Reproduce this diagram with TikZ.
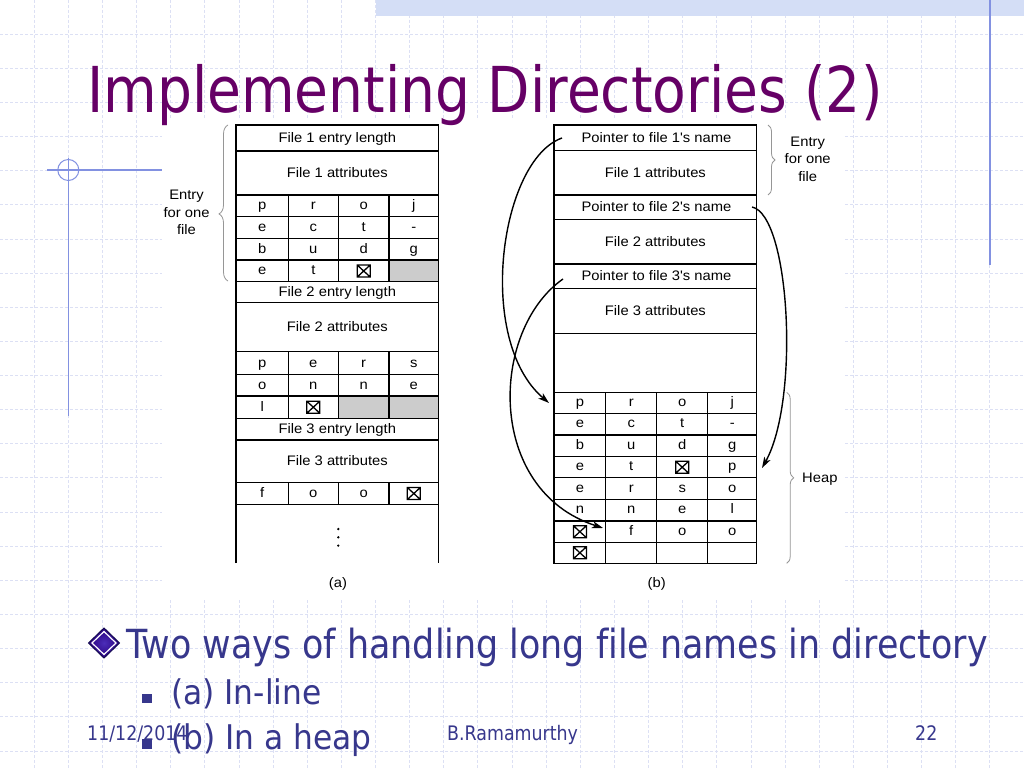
\documentclass[tikz,border=0pt]{standalone}
\usepackage{fontspec}
\setmainfont{Liberation Sans}
\newfontfamily\slidefont[FakeStretch=0.87,Ligatures=NoCommon]{DejaVu Sans}
\newfontfamily\subfont[FakeStretch=0.92,Ligatures=NoCommon]{DejaVu Sans}
\newfontfamily\figfont[FakeStretch=1.07,Ligatures=NoCommon]{Liberation Sans}
\usetikzlibrary{arrows.meta,decorations.pathreplacing}
\definecolor{titlepurple}{RGB}{102,0,102}
\definecolor{bodyblue}{RGB}{55,55,140}
\definecolor{gridc}{RGB}{220,224,244}
\definecolor{decoblue}{RGB}{130,145,225}
\definecolor{bannerc}{RGB}{212,222,246}
\definecolor{cellgray}{RGB}{204,204,204}
\definecolor{bracec}{RGB}{150,150,150}
\definecolor{diain}{RGB}{75,45,185}
\definecolor{diaout}{RGB}{40,0,125}
\definecolor{diaedge}{RGB}{20,10,80}
\begin{document}
\begin{tikzpicture}[x=1pt,y=-1pt,
  gridline/.style={gridc, line width=0.8pt, dash pattern=on 3pt off 2pt},
  deco/.style={decoblue, line width=1.3pt},
  tbl/.style={line width=1.4pt, black},
  lbl/.style={font={\figfont\fontsize{13.8pt}{16pt}\selectfont}, inner sep=0pt, anchor=base},
  ptr/.style={line width=1.4pt, -{Stealth[length=11pt,width=7pt,inset=3pt]}},
  gbrace/.style={decorate, draw=bracec, line width=0.8pt},
  titletext/.style={font={\slidefont\fontsize{63.3pt}{70pt}\selectfont}, text=titlepurple, inner sep=0pt, anchor=base west},
  bodytext/.style={font={\slidefont\fontsize{40.1pt}{46pt}\selectfont}, text=bodyblue, inner sep=0pt, anchor=base west},
  subtext/.style={font={\subfont\fontsize{34pt}{40pt}\selectfont}, text=bodyblue, inner sep=0pt, anchor=base west},
  foottext/.style={font={\slidefont\fontsize{20pt}{24pt}\selectfont}, text=bodyblue, inner sep=0pt, anchor=base west},
  sqbullet/.style={fill=bodyblue},
  xbox/.pic={\draw[line width=1.3pt] (-6.5,-6) rectangle (6.5,6) (-6.5,-6) -- (6.5,6) (-6.5,6) -- (6.5,-6);}
]
\useasboundingbox (0,0) rectangle (1024,768);
\fill[white] (0,0) rectangle (1024,768);
% background grid
\foreach \i in {1,...,29} \draw[gridline] (\i*34.1333,0) -- (\i*34.1333,768);
\foreach \j in {1,...,22} \draw[gridline] (0,\j*34.1333) -- (1024,\j*34.1333);
% banner and decorations
\fill[bannerc] (375.5,0) rectangle (1024,16.5);
\draw[deco] (989.9,0) -- (989.9,265);
\draw[deco] (47,170) -- (162,170);
\draw[deco] (68.3,158) -- (68.3,416);
\draw[decoblue, line width=1pt] (68.3,170) circle (10.5);
% white figure area
\fill[white] (162,120) rectangle (843,598);

% ---------------- (a) in-line ----------------
\fill[cellgray] (389,260) rectangle (438.5,281.7);
\fill[cellgray] (338.3,396) rectangle (438.5,418.3);
\draw[tbl] (236,563) -- (236,125) -- (438.5,125) -- (438.5,563);
\foreach \yy in {151,195,216.7,238.3,260,281.7,302.7,351.7,374.3,396,418.3,440,482.7,504.3}
  \draw[tbl] (236,\yy) -- (438.5,\yy);
\foreach \xx in {288.3,338.3,389} {
  \draw[tbl] (\xx,195) -- (\xx,281.7);
  \draw[tbl] (\xx,351.7) -- (\xx,418.3);
  \draw[tbl] (\xx,482.7) -- (\xx,504.3);
}
\node[lbl] (a-len1) at (337.3,142.7) {File 1 entry length};
\node[lbl] (a-att1) at (337.3,177.5) {File 1 attributes};
\node[lbl] (a-len2) at (337.3,296.7) {File 2 entry length};
\node[lbl] (a-att2) at (337.3,331.7) {File 2 attributes};
\node[lbl] (a-len3) at (337.3,433.7) {File 3 entry length};
\node[lbl] (a-att3) at (337.3,465.9) {File 3 attributes};
% characters
\node[lbl] (a11) at (262.2,209.8) {p};
\node[lbl] (a12) at (313.3,209.8) {r};
\node[lbl] (a13) at (363.7,209.8) {o};
\node[lbl] (a14) at (413.8,209.8) {j};
\node[lbl] (a21) at (262.2,231.5) {e};
\node[lbl] (a22) at (313.3,231.5) {c};
\node[lbl] (a23) at (363.7,231.5) {t};
\node[lbl] (a24) at (413.8,231.5) {-};
\node[lbl] (a31) at (262.2,253.2) {b};
\node[lbl] (a32) at (313.3,253.2) {u};
\node[lbl] (a33) at (363.7,253.2) {d};
\node[lbl] (a34) at (413.8,253.2) {g};
\node[lbl] (a41) at (262.2,274.8) {e};
\node[lbl] (a42) at (313.3,274.8) {t};
\pic (a43) at (363.7,271) {xbox};
\node[lbl] (a51) at (262.2,367) {p};
\node[lbl] (a52) at (313.3,367) {e};
\node[lbl] (a53) at (363.7,367) {r};
\node[lbl] (a54) at (413.8,367) {s};
\node[lbl] (a61) at (262.2,389.2) {o};
\node[lbl] (a62) at (313.3,389.2) {n};
\node[lbl] (a63) at (363.7,389.2) {n};
\node[lbl] (a64) at (413.8,389.2) {e};
\node[lbl] (a71) at (262.2,411.2) {l};
\pic (a72) at (313.3,407.2) {xbox};
\node[lbl] (a81) at (262.2,497.5) {f};
\node[lbl] (a82) at (313.3,497.5) {o};
\node[lbl] (a83) at (363.7,497.5) {o};
\pic (a84) at (413.8,493.5) {xbox};
\fill (338.3,529) circle (1.3) (338.3,537.3) circle (1.3) (338.3,545.6) circle (1.3);
% brace and label
\draw[gbrace, decoration={brace, amplitude=9pt, aspect=0.43}] (228,281) -- (228,125);
\node[lbl] (entA1) at (186.5,199.5) {Entry};
\node[lbl] (entA2) at (186.5,217.2) {for one};
\node[lbl] (entA3) at (186.5,234.5) {file};
\node[lbl] (capA) at (338,587.6) {(a)};

% ---------------- (b) in a heap ----------------
\draw[tbl] (554,125) rectangle (756.7,563.3);
\foreach \yy in {150.7,195,219.3,264,288.3,333.3,392.3,413.3,435,456.7,477.7,499.3,521,542.3}
  \draw[tbl] (554,\yy) -- (756.7,\yy);
\foreach \xx in {605.7,656.7,707.7} \draw[tbl] (\xx,392.3) -- (\xx,563.3);
\node[lbl] (b-ptr1) at (656.5,142.4) {Pointer to file 1's name};
\node[lbl] (b-att1) at (655.4,177.4) {File 1 attributes};
\node[lbl] (b-ptr2) at (656.5,211.7) {Pointer to file 2's name};
\node[lbl] (b-att2) at (655.4,246.2) {File 2 attributes};
\node[lbl] (b-ptr3) at (656.5,280.7) {Pointer to file 3's name};
\node[lbl] (b-att3) at (655.4,315.3) {File 3 attributes};
% heap characters
\node[lbl] (h11) at (579.9,406.3) {p};
\node[lbl] (h12) at (631.2,406.3) {r};
\node[lbl] (h13) at (682.2,406.3) {o};
\node[lbl] (h14) at (732.2,406.3) {j};
\node[lbl] (h21) at (579.9,427.7) {e};
\node[lbl] (h22) at (631.2,427.7) {c};
\node[lbl] (h23) at (682.2,427.7) {t};
\node[lbl] (h24) at (732.2,427.7) {-};
\node[lbl] (h31) at (579.9,449.4) {b};
\node[lbl] (h32) at (631.2,449.4) {u};
\node[lbl] (h33) at (682.2,449.4) {d};
\node[lbl] (h34) at (732.2,449.4) {g};
\node[lbl] (h41) at (579.9,470.7) {e};
\node[lbl] (h42) at (631.2,470.7) {t};
\pic (h43) at (682.2,467.2) {xbox};
\node[lbl] (h44) at (732.2,470.7) {p};
\node[lbl] (h51) at (579.9,492) {e};
\node[lbl] (h52) at (631.2,492) {r};
\node[lbl] (h53) at (682.2,492) {s};
\node[lbl] (h54) at (732.2,492) {o};
\node[lbl] (h61) at (579.9,513.7) {n};
\node[lbl] (h62) at (631.2,513.7) {n};
\node[lbl] (h63) at (682.2,513.7) {e};
\node[lbl] (h64) at (732.2,513.7) {l};
\pic (h71) at (579.9,531.7) {xbox};
\node[lbl] (h72) at (631.2,535.2) {f};
\node[lbl] (h73) at (682.2,535.2) {o};
\node[lbl] (h74) at (732.2,535.2) {o};
\pic (h81) at (579.9,552.8) {xbox};
% braces and labels
\draw[gbrace, decoration={brace, amplitude=7pt, aspect=0.5}] (768,125) -- (768,195);
\node[lbl] (entB1) at (807.7,146.2) {Entry};
\node[lbl] (entB2) at (807.7,163.8) {for one};
\node[lbl] (entB3) at (807.7,181.2) {file};
\draw[gbrace, decoration={brace, amplitude=7pt, aspect=0.5}] (786.7,392.3) -- (786.7,563.3);
\node[lbl, anchor=base west] (heap) at (802,482.5) {Heap};
\node[lbl] (capB) at (656.7,587.6) {(b)};
% pointers
\coordinate (s1) at (562,138);
\coordinate (t1) at (549,403);
\coordinate (s2) at (752,207);
\coordinate (t2) at (762,468);
\coordinate (s3) at (563,279);
\coordinate (t3) at (603,528);
\draw[ptr] (s1) .. controls (500,160) and (475,340) .. (t1);
\draw[ptr] (s2) .. controls (790,215) and (800,400) .. (t2);
\draw[ptr] (s3) .. controls (490,330) and (485,490) .. (t3);

% ---------------- slide text ----------------
\node[titletext] (title) at (87,112) {Implementing Directories (2)};
\shade[inner color=diain, outer color=diaout] (104,628) -- (119.5,643) -- (104,658) -- (88.5,643) -- cycle;
\draw[diaedge, line width=1pt] (104,628) -- (119.5,643) -- (104,658) -- (88.5,643) -- cycle;
\draw[white, line width=1.2pt] (104,631.5) -- (116,643) -- (104,654.5) -- (92,643) -- cycle;
\node[bodytext] (b1) at (126,658.3) {Two ways of handling long file names in directory};
\fill[sqbullet] (142,693.5) rectangle (151.5,703);
\node[subtext] (b2) at (171,704.3) {(a) In-line};
\node[foottext] (date) at (87,740) {11/12/2014};
\fill[sqbullet] (142,739) rectangle (151.5,748.5);
\node[subtext] (b3) at (171,749.5) {(b) In a heap};
\node[foottext] (author) at (447,740) {B.Ramamurthy};
\node[foottext] (page) at (915,740) {22};
\end{tikzpicture}
\end{document}
